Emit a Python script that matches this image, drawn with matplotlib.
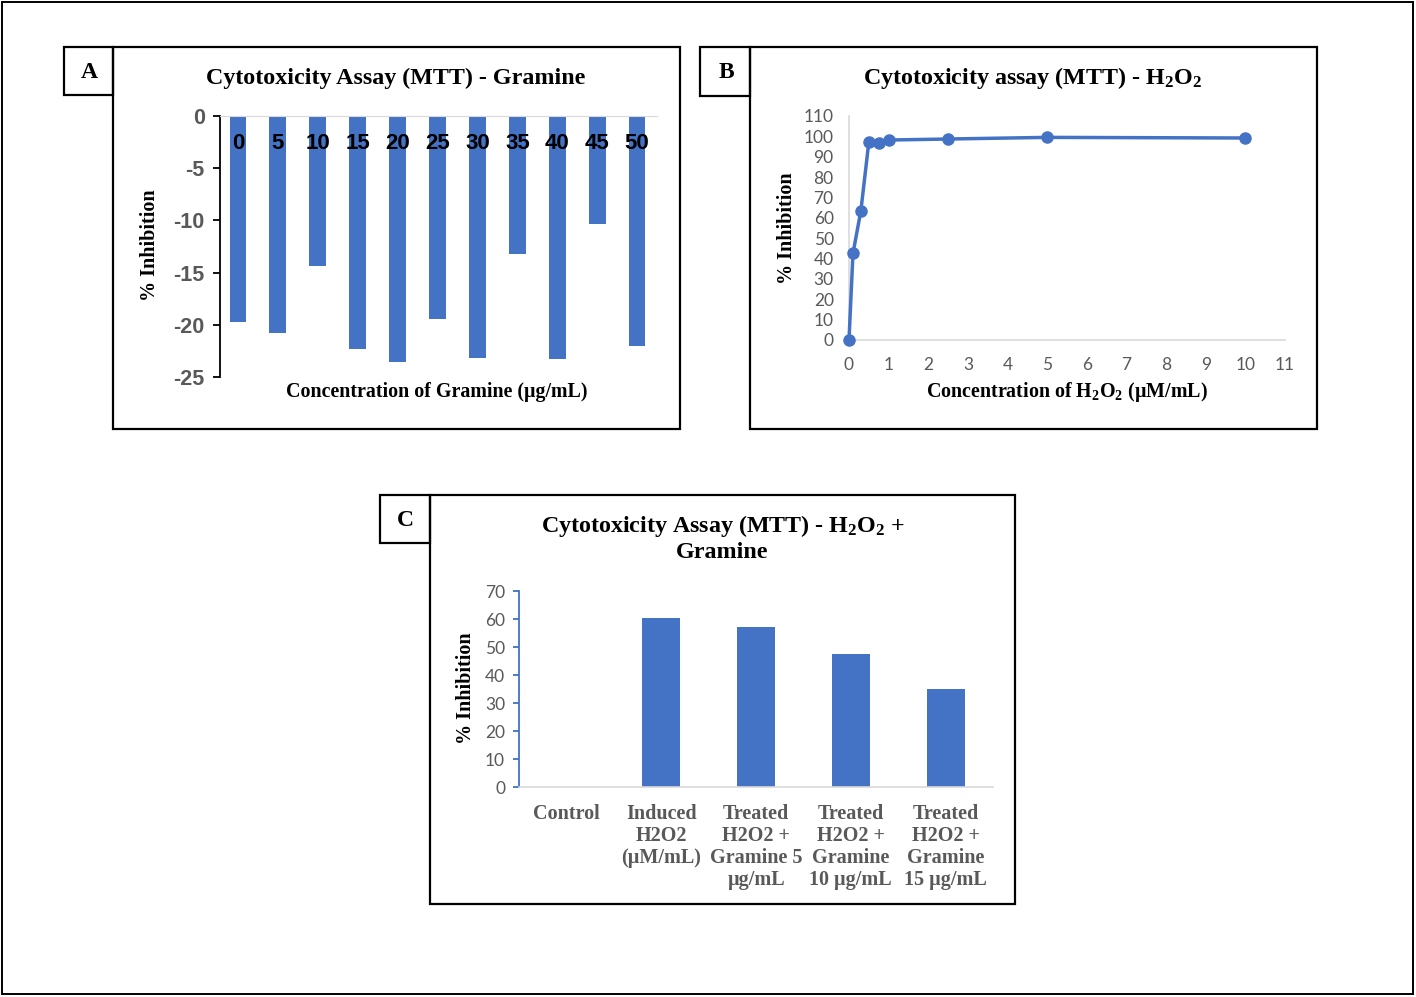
import matplotlib
matplotlib.use("Agg")
import matplotlib.pyplot as plt
from matplotlib.patches import Rectangle

plt.rcParams['mathtext.fontset'] = 'custom'
plt.rcParams['mathtext.rm'] = 'Liberation Serif:bold'
plt.rcParams['mathtext.bf'] = 'Liberation Serif:bold'
plt.rcParams['mathtext.default'] = 'rm'
plt.rcParams['axes.unicode_minus'] = False

# panel A: gramine alone
gramine_conc = ['0', '5', '10', '15', '20', '25', '30', '35', '40', '45', '50']
gramine_inhib = [-19.7, -20.8, -14.4, -22.3, -23.6, -19.4, -23.2, -13.2, -23.3, -10.3, -22.0]

# panel B: H2O2 alone
h2o2_conc = [0, 0.1, 0.3, 0.5, 0.75, 1, 2.5, 5, 10]
h2o2_inhib = [0, 42.5, 63.5, 97.2, 96.6, 98.2, 98.7, 99.5, 99.2]

# panel C: H2O2 + gramine
groups = ['Control', 'Induced\nH2O2\n(µM/mL)', 'Treated\nH2O2 +\nGramine 5\nµg/mL',
          'Treated\nH2O2 +\nGramine\n10 µg/mL', 'Treated\nH2O2 +\nGramine\n15 µg/mL']
group_inhib = [0, 60.5, 57.0, 47.5, 35.0]

W, H = 1416, 997
BLUE = '#4472C4'
GREY = '#595959'
LIGHT = '#D9D9D9'
SERIF = ['Liberation Serif', 'DejaVu Serif']
SANS = ['Liberation Sans', 'DejaVu Sans']
CAL = ['Lato', 'DejaVu Sans']

fig = plt.figure(figsize=(W / 100, H / 100), dpi=100)


def fx(x):
    return x / W


def fy(y):
    return 1 - y / H


def box(x0, y0, x1, y1, lw=1.6):
    fig.add_artist(Rectangle((fx(x0), fy(y1)), fx(x1) - fx(x0), fy(y0) - fy(y1),
                             transform=fig.transFigure, fill=False, ec='black', lw=lw))


def axes_px(x0, y0, x1, y1):
    return fig.add_axes([fx(x0), fy(y1), fx(x1) - fx(x0), fy(y0) - fy(y1)])


def txt(x, y, s, size, rot=0, color='black', family=SERIF, weight='bold'):
    fig.text(fx(x), fy(y), s, ha='center', va='center', fontsize=size, rotation=rot,
             color=color, family=family, fontweight=weight)


# frames
box(2, 2, 1413, 994, lw=1.4)
box(113, 47, 680, 429)
box(64, 47, 113, 95)
box(750, 47, 1317, 429)
box(700, 47, 750, 96)
box(430, 495, 1015, 904)
box(380, 495, 430, 543)
txt(89, 72, 'A', 17)
txt(726, 72, 'B', 17)
txt(405, 520, 'C', 17)

# ---- A ----
ax = axes_px(220, 116, 657, 377)
xa = range(len(gramine_conc))
ax.bar(xa, gramine_inhib, width=0.42, color=BLUE, zorder=2)
ax.set_xlim(-0.45, 10.5)
ax.set_ylim(-25, 0)
ax.set_yticks([0, -5, -10, -15, -20, -25])
ax.set_yticklabels(['0', '-5', '-10', '-15', '-20', '-25'])
for s in ['right', 'bottom']:
    ax.spines[s].set_visible(False)
ax.spines['top'].set_color(LIGHT)
ax.spines['left'].set_color('black')
ax.spines['left'].set_linewidth(1.3)
ax.set_xticks([])
ax.tick_params(axis='y', direction='out', length=5, width=1.3, colors='black', pad=6)
for lab in ax.get_yticklabels():
    lab.set_color(GREY)
    lab.set_family(SANS)
    lab.set_fontweight('bold')
    lab.set_fontsize(15.5)
for i, c in enumerate(gramine_conc):
    ax.text(i, -2.6, c, ha='center', va='center', fontsize=16, fontweight='bold',
            family=SANS, color='black', zorder=3)
txt(396, 78, 'Cytotoxicity Assay (MTT) - Gramine', 17.3)
txt(437, 392, 'Concentration of Gramine (µg/mL)', 14.4)
txt(150, 245, '% Inhibition', 14.5, rot=90)

# ---- B ----
ax = axes_px(849, 116, 1285, 340)
ax.plot(h2o2_conc, h2o2_inhib, color=BLUE, lw=2.5, marker='o', ms=8, clip_on=False, zorder=3)
ax.set_xlim(0, 11)
ax.set_ylim(0, 110)
ax.set_xticks(range(0, 12))
ax.set_yticks(range(0, 111, 10))
for s in ['right', 'top']:
    ax.spines[s].set_visible(False)
for s in ['left', 'bottom']:
    ax.spines[s].set_color(LIGHT)
    ax.spines[s].set_linewidth(1.2)
ax.tick_params(axis='y', length=0, pad=11, labelsize=12.5, labelcolor=GREY)
ax.tick_params(axis='x', length=0, pad=12, labelsize=12.5, labelcolor=GREY)
for lab in ax.get_xticklabels() + ax.get_yticklabels():
    lab.set_family(CAL)
txt(1033, 78, 'Cytotoxicity assay (MTT) - H$_2$O$_2$', 17.3)
txt(1067, 392, 'Concentration of H$_2$O$_2$ (µM/mL)', 14.4)
txt(787, 228, '% Inhibition', 14.5, rot=90)

# ---- C ----
ax = axes_px(519, 591, 993, 787)
xc = range(len(groups))
ax.bar(xc, group_inhib, width=0.4, color=BLUE, zorder=2)
ax.set_xlim(-0.5, 4.5)
ax.set_ylim(0, 70)
ax.set_yticks(range(0, 71, 10))
ax.set_xticks(list(xc))
ax.set_xticklabels(groups, family=SERIF, fontweight='bold', fontsize=14.5,
                   color=GREY, linespacing=1.15)
for s in ['right', 'top']:
    ax.spines[s].set_visible(False)
ax.spines['left'].set_color(BLUE)
ax.spines['left'].set_linewidth(1.3)
ax.spines['bottom'].set_color(LIGHT)
ax.spines['bottom'].set_linewidth(1.2)
ax.tick_params(axis='y', direction='out', length=4, width=1.3, colors=BLUE, pad=6,
               labelsize=12.5, labelcolor=GREY)
ax.tick_params(axis='x', length=0, pad=12)
for lab in ax.get_yticklabels():
    lab.set_family(CAL)
txt(723, 526, 'Cytotoxicity Assay (MTT) - H$_2$O$_2$ +', 17.3)
txt(722, 553, 'Gramine', 17.3)
txt(466, 688, '% Inhibition', 14.5, rot=90)

fig.savefig('out.png', dpi=100)
